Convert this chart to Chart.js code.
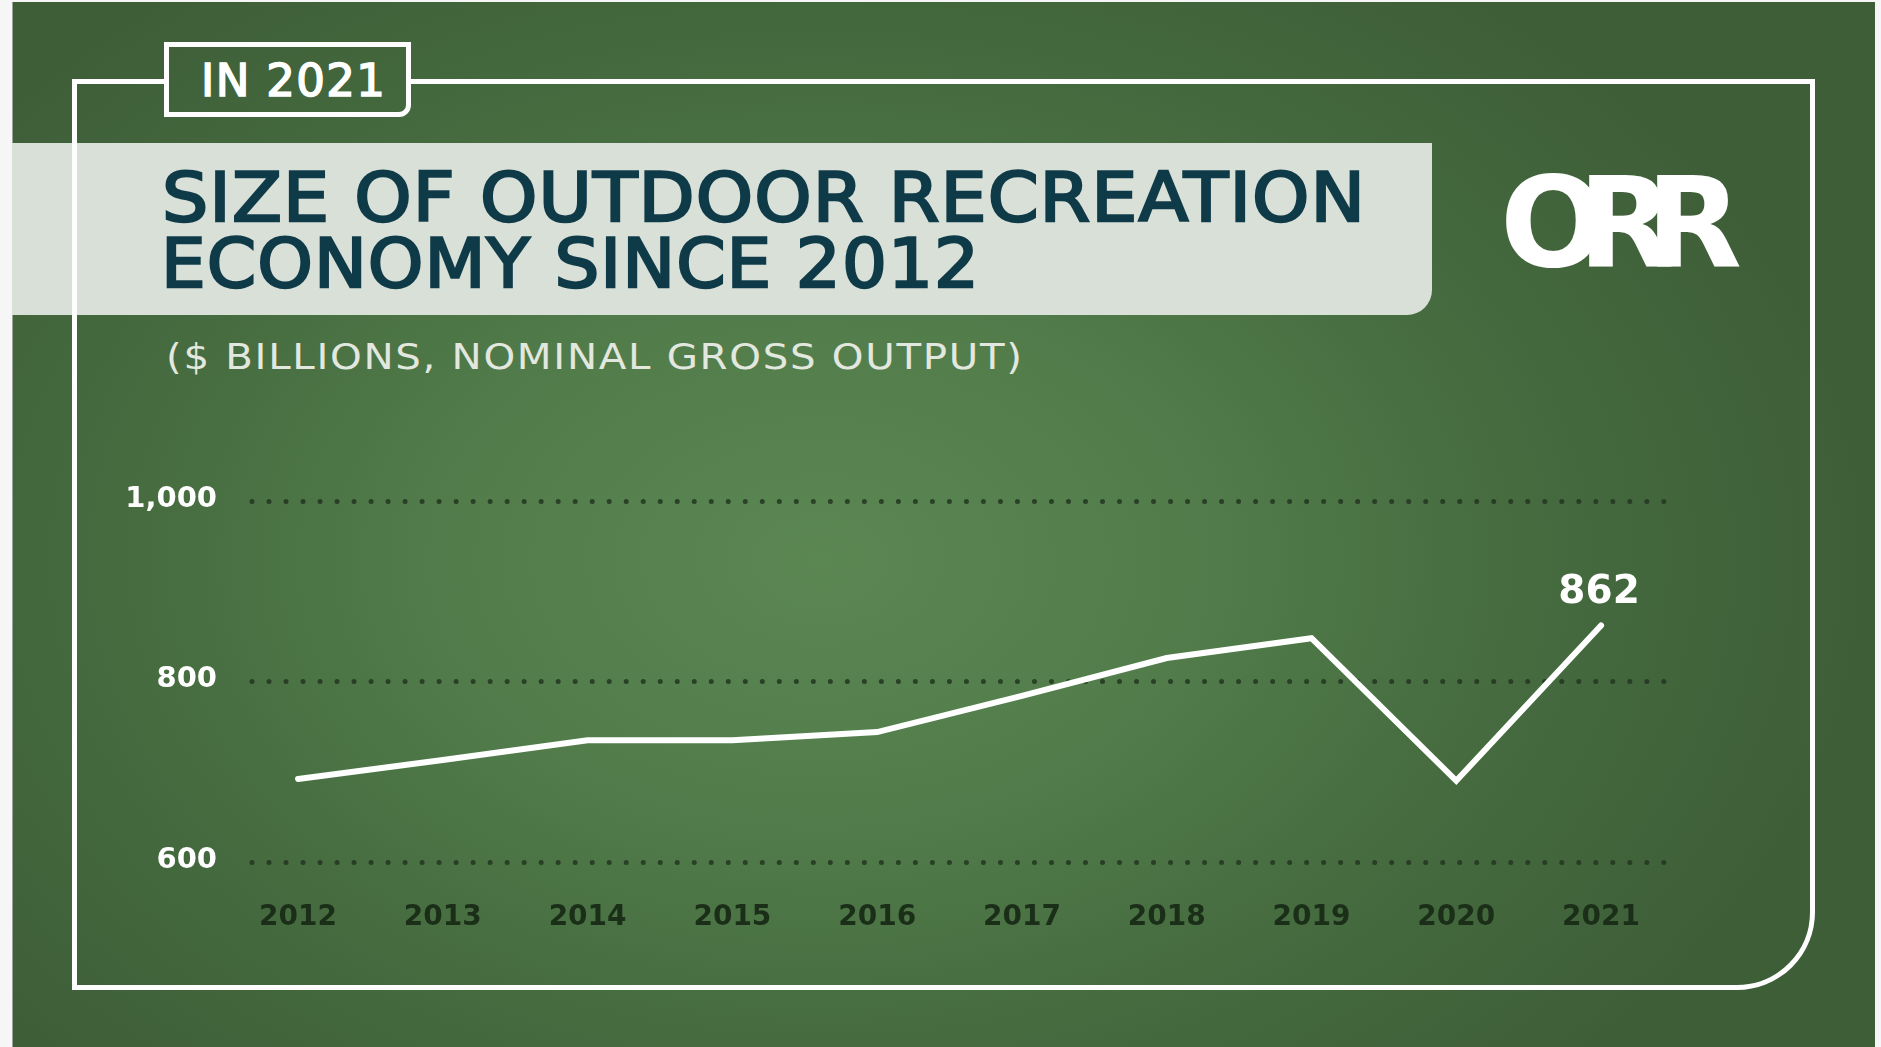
<!DOCTYPE html>
<html>
<head>
<meta charset="utf-8">
<script src="https://cdn.jsdelivr.net/npm/chart.js@4.4.0/dist/chart.umd.min.js"></script>
<style>
  html, body { margin: 0; padding: 0; width: 1881px; height: 1047px; overflow: hidden; background: #f6f6f6; }
  .abs { position: absolute; white-space: nowrap; line-height: 1; font-family: "DejaVu Sans", sans-serif; }
  .green {
    background: radial-gradient(ellipse 1050px 720px at 820px 560px, #5b8753 0%, #527d4b 35%, #466c40 65%, #3e5e38 100%);
    background-attachment: fixed;
  }
  #bg { left: 12px; top: 2px; width: 1862px; height: 1045px; border-left: 1px solid #9aa39a; }
  #band { left: 12px; top: 143px; width: 1420px; height: 172px; background: #d9e0d8; border-bottom-right-radius: 25px; }
  #frame { left: 72px; top: 79px; width: 1743px; height: 911px; box-sizing: border-box;
    border: 5px solid #fff; border-bottom-right-radius: 78px; }
  #tag { left: 164px; top: 42px; width: 247px; height: 75px; box-sizing: border-box;
    border: 5px solid #fff; border-bottom-right-radius: 12px; }
  #tagText { left: 201px; top: 58px; font-size: 45px; color: #fff; -webkit-text-stroke: 1.6px #fff; }
  .title { font-size: 68px; color: #0f3a48; -webkit-text-stroke: 2.4px #0f3a48; transform-origin: 0 0; }
  #t1 { left: 162px; top: 164px; }
  #t2 { left: 161px; top: 230px; }
  #sub { left: 166px; top: 339px; font-size: 36px; color: #e2e8df; transform-origin: 0 0; }
  #logo { left: 1500px; top: 160px; font-size: 125px; font-weight: bold; color: #fff; }
  #chart { position: absolute; left: 0; top: 0; }
</style>
</head>
<body>
<div id="bg" class="abs green"></div>
<div id="band" class="abs"></div>
<div id="frame" class="abs"></div>
<div id="tag" class="abs green"></div>
<div id="tagText" class="abs">IN 2021</div>
<div id="t1" class="abs title">SIZE OF OUTDOOR RECREATION</div>
<div id="t2" class="abs title">ECONOMY SINCE 2012</div>
<div id="sub" class="abs">($ BILLIONS, NOMINAL GROSS OUTPUT)</div>
<div id="logo" class="abs">ORR</div>
<canvas id="chart" width="1881" height="1047"></canvas>
<script>
// gross output, $ billions
const years = [2012, 2013, 2014, 2015, 2016, 2017, 2018, 2019, 2020, 2021];
const values = [692, 713, 735, 735, 744, 784, 826, 848, 690, 862];
const yTicks = [600, 800, 1000];

// stretch a text box to the width it has in the picture
function fitText(id, target) {
  const el = document.getElementById(id);
  el.style.letterSpacing = "0px";
  const w = el.getBoundingClientRect().width;
  const n = el.textContent.length;
  el.style.letterSpacing = (target - w) / (n - 1) + "px";
}

// widen glyphs instead of spacing them out (wide geometric face)
function stretchText(id, target, spacing) {
  const el = document.getElementById(id);
  el.style.letterSpacing = spacing + "px";
  const w = el.getBoundingClientRect().width - spacing;
  el.style.transform = "scaleX(" + target / w + ")";
}

stretchText("t1", 1203, 1);
stretchText("t2", 818, 1);
fitText("tagText", 184);
fitText("logo", 242);
stretchText("sub", 856, 1.5);

// grid lines are drawn as round dots
const roundDots = {
  id: "roundDots",
  beforeDraw(chart) {
    chart.ctx.lineCap = "round";
  }
};

// value label above the last point
const lastLabel = {
  id: "lastLabel",
  afterDatasetsDraw(chart) {
    const meta = chart.getDatasetMeta(0);
    const pt = meta.data[meta.data.length - 1];
    const ctx = chart.ctx;
    ctx.save();
    ctx.fillStyle = "#ffffff";
    ctx.font = 'bold 39px "DejaVu Sans"';
    ctx.textAlign = "center";
    ctx.textBaseline = "alphabetic";
    ctx.fillText(String(values[values.length - 1]), pt.x - 2, pt.y - 23);
    ctx.restore();
  }
};

const ctx = document.getElementById("chart").getContext("2d");
new Chart(ctx, {
  type: "line",
  data: {
    datasets: [
      {
        data: years.map((y, i) => ({ x: y, y: values[i] })),
        borderColor: "#ffffff",
        borderWidth: 6,
        borderCapStyle: "round",
        borderJoinStyle: "miter",
        pointRadius: 0,
        tension: 0,
        fill: false
      }
    ]
  },
  options: {
    responsive: false,
    animation: false,
    events: [],
    layout: { padding: { left: 102, top: 501, right: 209, bottom: 105 } },
    plugins: { legend: { display: false }, tooltip: { enabled: false } },
    scales: {
      x: {
        type: "linear",
        min: 2011.682,
        max: 2021.49,
        afterBuildTicks: (axis) => {
          axis.ticks = years.map((v) => ({ value: v }));
        },
        afterFit: (axis) => {
          axis.height = 80;
        },
        grid: { display: false, drawTicks: false },
        border: { display: false },
        ticks: {
          autoSkip: false,
          maxRotation: 0,
          padding: 39,
          color: "#1a2e18",
          font: { family: "DejaVu Sans", size: 28, weight: "bold" },
          callback: (v) => String(v)
        }
      },
      y: {
        min: 600,
        max: 1000,
        afterBuildTicks: (axis) => {
          axis.ticks = yTicks.map((v) => ({ value: v }));
        },
        afterFit: (axis) => {
          axis.width = 150;
        },
        grid: { color: "rgba(34, 54, 32, 0.85)", lineWidth: 5, drawTicks: false },
        border: { display: false, dash: [0.01, 17] },
        ticks: {
          padding: 35,
          labelOffset: -2,
          color: "#ffffff",
          font: { family: "DejaVu Sans", size: 29, weight: "bold" },
          callback: (v) => v.toLocaleString("en-US")
        }
      }
    }
  },
  plugins: [roundDots, lastLabel]
});
</script>
</body>
</html>
